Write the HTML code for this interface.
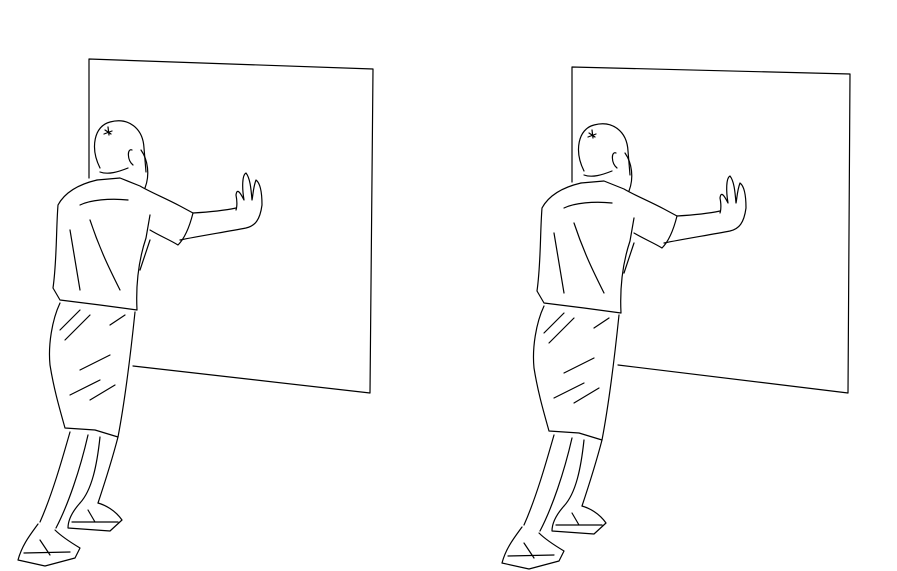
<!DOCTYPE html>
<html><head><meta charset="utf-8">
<style>
html,body{margin:0;padding:0;background:#fff;}
svg{display:block;}
path,polygon,polyline{fill:none;stroke:#000;stroke-width:1.2;stroke-linejoin:round;stroke-linecap:round;}
</style></head>
<body>
<svg width="897" height="571" viewBox="0 0 897 571">
<defs>
<g id="fig">
  <path d="M100,168 C90,148 94,126 110,122 C128,117 143,128 144,148 L146,172" />
  <path d="M105,130 l6,4 M108,127 l1,8 M104,134 l8,-3" />
  <path d="M132,150 C127,148 127,160 133,165" />
  <path d="M141,150 C148,160 150,175 145,188" />
  <path d="M100,172 C108,175 118,172 128,168" />
  <path d="M97,180 C80,184 65,192 58,205 C56,230 57,260 53,288 L60,300 L100,305 L137,310 C136,290 137,265 146,238 L150,215" />
  <path d="M97,180 L120,178 L140,186 C150,192 165,198 180,206 L193,213" />
  <path d="M193,213 C190,225 185,238 178,245 C170,240 160,236 150,230" />
  <path d="M193,213 C210,212 222,211 236,208" />
  <path d="M180,240 C200,236 225,232 246,228 C255,226 260,220 262,205 C262,192 260,183 256,180 C253,188 253,196 252,200 C251,188 250,178 246,173 C242,175 242,188 244,200 C240,192 237,188 236,195 C238,205 236,210 236,210" />
  <path d="M80,205 C90,200 110,198 128,200 M70,230 L80,290 M90,220 C100,250 110,270 120,290 M150,240 L140,270" />
  <path d="M60,303 C52,320 48,345 50,365 C54,390 60,410 65,428 L95,430 L118,437 C125,400 130,360 135,312" />
  <path d="M60,330 L80,310 M65,340 L90,315 M110,325 L125,315 M80,370 L110,355 M70,395 L100,380 M90,400 L115,385" />
  <path d="M70,432 C62,460 52,495 40,522 M88,435 C80,470 68,505 56,528" />
  <path d="M100,437 C97,465 92,490 80,503 M118,437 C112,460 104,485 98,503" />
  <path d="M38,524 C30,535 22,545 18,560 L45,566 L75,558 L80,548 C70,542 60,535 55,530" />
  <path d="M24,553 L70,552 M40,540 L50,555" />
  <path d="M80,503 C72,512 68,520 68,528 L110,531 L122,520 C115,510 105,505 98,503" />
  <path d="M72,522 L118,522 M88,510 L95,522" />
</g>
</defs>
<g>
  <polygon points="89,59 373,69 370,393 133,366 89,366" style="stroke:none" />
  <path d="M89,178 L89,59 L373,69 L370,393 L133,366" />
  <use href="#fig"/>
</g>
<g>
  <path d="M572,182 L572,67 L850,74 L848,393 L618,365" />
  <use href="#fig" transform="translate(484,3)"/>
</g>
</svg>
</body></html>
